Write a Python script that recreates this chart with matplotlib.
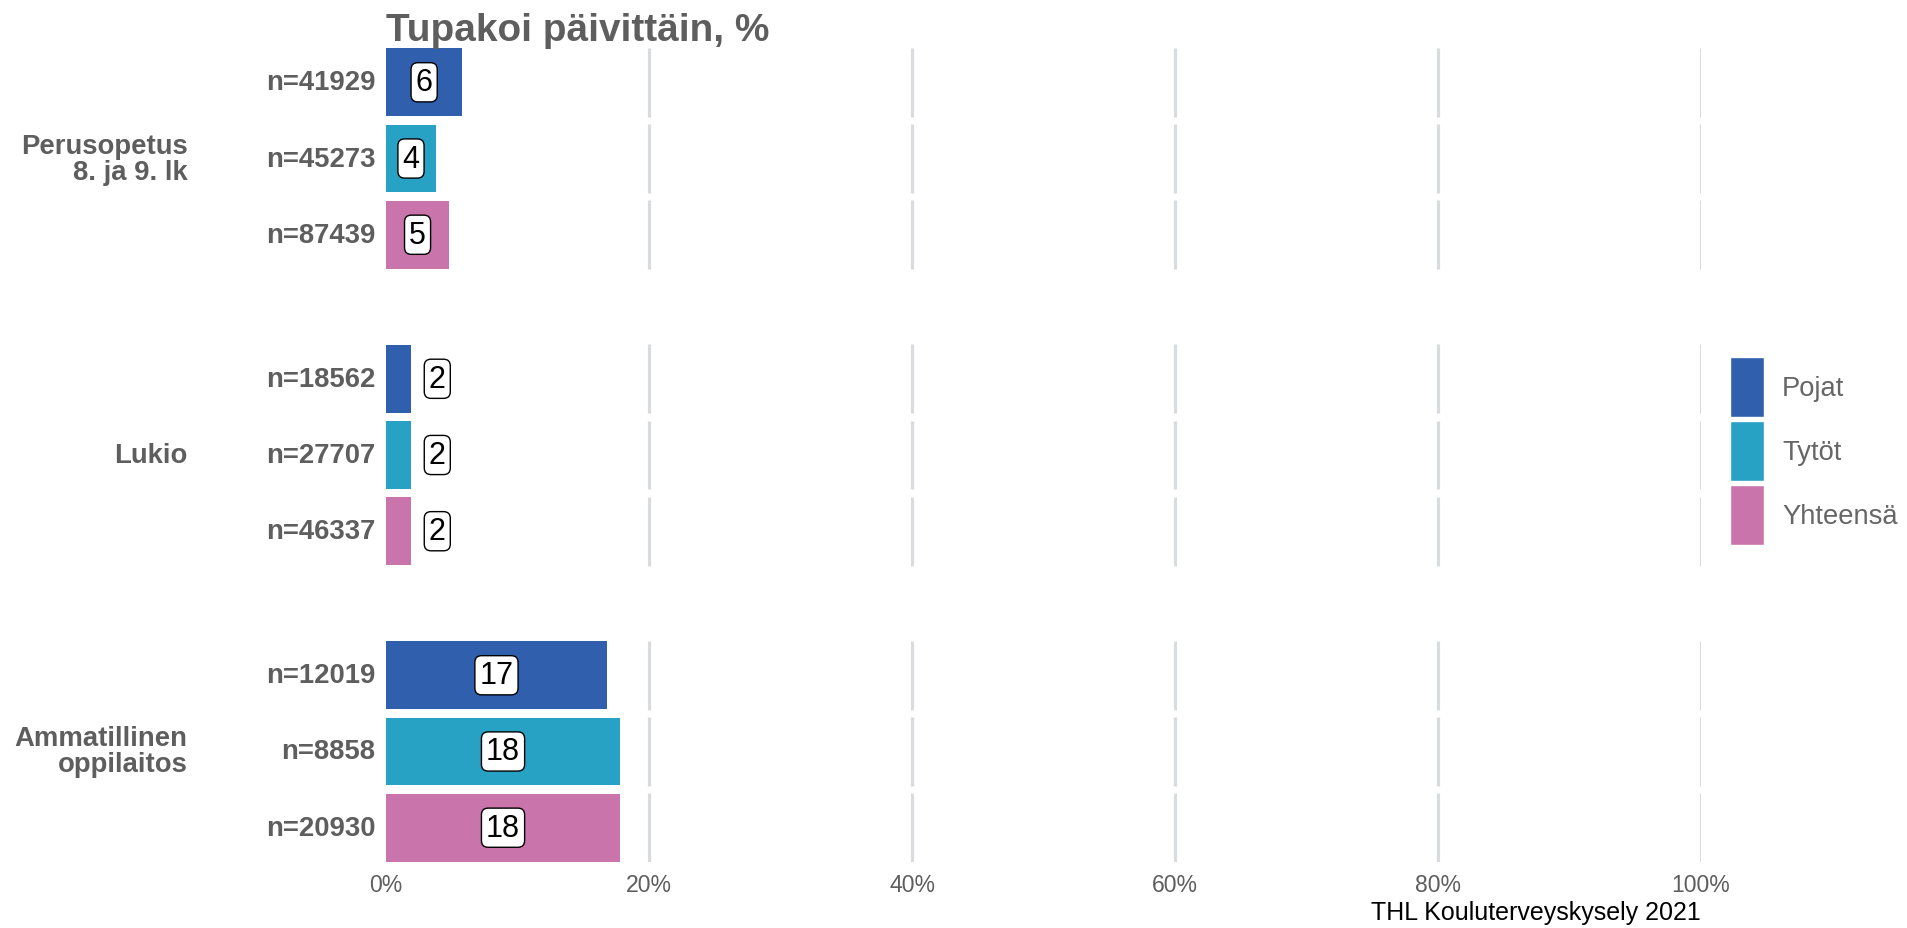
import matplotlib
matplotlib.use("Agg")
import matplotlib.pyplot as plt
from matplotlib.patches import Patch

plt.rcParams["font.family"] = ["Liberation Sans", "DejaVu Sans"]

# ── Data ──────────────────────────────────────────────────────────────────────
GROUPS = ["Perusopetus\n8. ja 9. lk", "Lukio", "Ammatillinen\noppilaitos"]
SERIES = ["Pojat", "Tytöt", "Yhteensä"]
N_LABELS = ["n=41929", "n=45273", "n=87439",
            "n=18562", "n=27707", "n=46337",
            "n=12019", "n=8858", "n=20930"]
PCT = [5.8, 3.8, 4.8,
       1.9, 1.9, 1.9,
       16.8, 17.8, 17.8]
XTICKS = [0, 20, 40, 60, 80, 100]
COLORS = {"Pojat": "#2F5FAD", "Tytöt": "#27A1C4", "Yhteensä": "#C974AA"}

GRAY = "#5E5E5E"
GROUP_GAP = 0.89

# ── Layout ────────────────────────────────────────────────────────────────────
fig = plt.figure(figsize=(19.08, 9.29), dpi=100)
ax = fig.add_axes([386 / 1908, 1 - 863 / 929, (1701 - 386) / 1908, (863 - 49) / 929])

ypos = []
for gi in range(len(GROUPS)):
    for si in range(len(SERIES)):
        ypos.append(gi * (len(SERIES) + GROUP_GAP) + si)

half = 0.45
for y in ypos:
    ax.vlines(XTICKS[1:], y - half, y + half, color="#D9DCDF", lw=2.3, zorder=0)

for i, (y, v) in enumerate(zip(ypos, PCT)):
    s = SERIES[i % len(SERIES)]
    ax.barh(y, v, height=0.89, color=COLORS[s], left=0, zorder=2)
    lx = v / 2 if v >= 3 else v + 2
    ax.text(lx, y, f"{round(v)}", ha="center", va="center", fontsize=22, color="black",
            zorder=3,
            bbox=dict(boxstyle="round,pad=0.15,rounding_size=0.22", fc="white", ec="black", lw=1))
    ax.text(-0.8, y, N_LABELS[i], ha="right", va="center", fontsize=19.8,
            fontweight="bold", color=GRAY)

for gi, g in enumerate(GROUPS):
    ymid = ypos[gi * len(SERIES) + 1]
    ax.text(-15.1, ymid, g, ha="right", va="center", fontsize=19.8, fontweight="bold",
            color=GRAY, linespacing=1.0)

ax.set_xlim(0, 100)
ax.set_ylim(ypos[-1] + half, ypos[0] - half)
ax.set_xticks(XTICKS)
ax.set_xticklabels([f"{t}%" for t in XTICKS], fontsize=16.6, color=GRAY)
ax.tick_params(axis="x", length=0, pad=8)
ax.set_yticks([])
for sp in ax.spines.values():
    sp.set_visible(False)

ax.set_title("Tupakoi päivittäin, %", loc="left", fontsize=27.9, fontweight="bold",
             color=GRAY, pad=3)

handles = [Patch(facecolor=COLORS[s], edgecolor="white", lw=1.0, label=s) for s in SERIES]
fig.legend(handles=handles, loc="center left", bbox_to_anchor=(1730 / 1908, 1 - 452 / 929),
           frameon=False, fontsize=19.7, handlelength=1.24, handleheight=3.0,
           labelspacing=0.15, handletextpad=0.66, labelcolor="#666666", borderpad=0,
           borderaxespad=0)

fig.text(1701 / 1908, 1 - 913 / 929, "THL Kouluterveyskysely 2021", ha="right", va="center",
         fontsize=18, color="black")

fig.savefig("out.png", dpi=100)
